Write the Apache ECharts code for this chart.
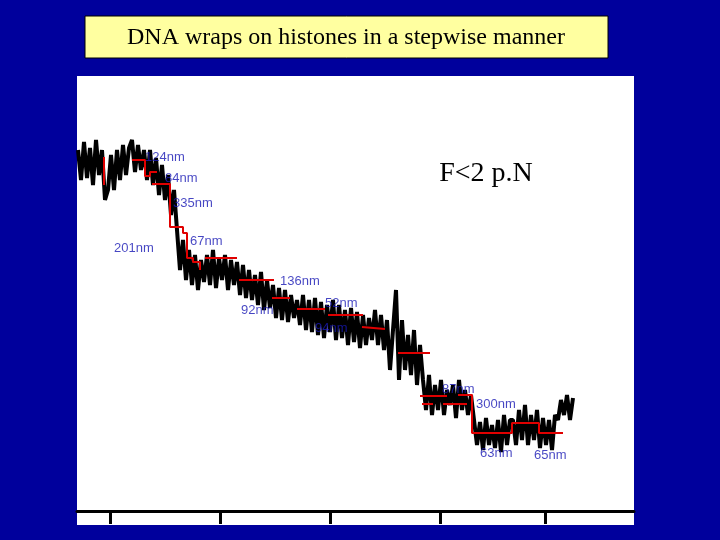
<!DOCTYPE html>
<html>
<head>
<meta charset="utf-8">
<script src="https://cdn.jsdelivr.net/npm/echarts@6/dist/echarts.min.js"></script>
<style>html,body{margin:0;padding:0;background:#00009c;}#main{width:720px;height:540px;}</style>
</head>
<body>
<div id="main"></div>
<script>
// trace samples (time step 3), extension
var traceStart = 78;
var traceStep = 3;
var traceY = [150,180,142,178,148,185,140,175,
    150,200,190,
    155,190,150,180,145,175,148,
    140,172,145,170,150,
    180,150,185,158,195,165,200,
    175,215,190,
    230,270,240,280,
    250,285,255,290,260,
    282,255,285,250,288,258,280,255,290,260,285,262,295,
    265,298,270,300,275,305,272,310,280,308,
    285,318,288,320,290,322,295,318,300,325,
    295,330,300,332,298,335,302,338,305,332,
    300,340,305,338,310,345,308,342,312,348,315,345,318,
    340,310,345,315,350,320,370,330,
    290,380,320,370,335,375,330,385,345,
    380,410,375,415,
    385,410,380,415,390,405,385,418,380,410,390,415,395,
    420,445,422,450,418,445,425,448,420,452,415,445,420,
    420,445,410,440,405,445,415,440,410,448,418,445,420,450,415,
    420,400,415,395,420,398];

// fitted steps (null = break)
var stepX = [104,104,null,
    132,145,145,150,150,157,null,
    152,170,170,183,183,187,187,193,193,200,200,null,
    205,237,null,239,274,null,272,290,null,297,325,null,328,363,null,362,385,null,
    398,430,null,420,447,null,422,433,null,443,467,null,
    458,472,472,512,512,539,539,563];
var stepY = [157,185,null,
    160,160,176,176,172,172,null,
    184,184,227,227,233,233,258,258,262,262,270,null,
    258,258,null,280,280,null,298,298,null,309,309,null,315,315,null,327,329,null,
    353,353,null,396,396,null,404,404,null,404,404,null,
    395,395,433,433,423,423,433,433];

var stepLabels = ['124nm','84nm','335nm','201nm','67nm','136nm','92nm','52nm','94nm','87nm','300nm','63nm','65nm'];
var labelX = [145,165,173,114,190,280,241,325,315,442,476,480,534];
var labelY = [157,178,203,248,241,281,310,303,328,389,404,453,455];

var tickValues = [110,220,330,440,545];

var traceData = traceY.map(function (y, i) { return [traceStart + i * traceStep, y]; });
var stepData = stepX.map(function (x, i) { return x == null ? '-' : [x, stepY[i]]; });
var labelData = labelX.map(function (x, i) { return [x, labelY[i], stepLabels[i]]; });

var myChart = echarts.init(document.getElementById('main'));
var option = {
    backgroundColor: '#00009c',
    animation: false,
    graphic: [
        { type: 'rect', z: -10, shape: { x: 77, y: 76, width: 557, height: 449 }, style: { fill: '#ffffff' } },
        { type: 'rect', shape: { x: 85, y: 16, width: 523, height: 42 }, style: { fill: '#ffffa0', stroke: '#000', lineWidth: 1 } },
        { type: 'text', x: 346, y: 38, style: { text: 'DNA wraps on histones in a stepwise manner', font: '24px "Liberation Serif", "Times New Roman", serif', fill: '#000', align: 'center', verticalAlign: 'middle' } },
        { type: 'text', x: 486, y: 174, style: { text: 'F<2 p.N', font: '28px "Liberation Serif", "Times New Roman", serif', fill: '#000', align: 'center', verticalAlign: 'middle' } }
    ],
    grid: { left: 77, right: 86, top: 76, bottom: 29 },
    xAxis: {
        type: 'value', min: 77, max: 634,
        splitLine: { show: false },
        axisLabel: { show: false },
        axisLine: { show: true, lineStyle: { color: '#000', width: 3 } },
        axisTick: { show: true, customValues: tickValues, inside: false, length: 13, lineStyle: { color: '#000', width: 3 } }
    },
    yAxis: {
        type: 'value', min: 76, max: 511, inverse: true,
        show: false, splitLine: { show: false }
    },
    series: [
        {
            type: 'line', data: traceData, symbol: 'none',
            lineStyle: { color: '#000', width: 4 }, z: 2
        },
        {
            type: 'line', data: stepData, symbol: 'none', connectNulls: false,
            lineStyle: { color: '#e00000', width: 2 }, z: 3
        },
        {
            type: 'scatter', data: labelData, symbolSize: 0, z: 4,
            label: {
                show: true, position: 'right', distance: 0,
                formatter: function (p) { return p.data[2]; },
                color: '#1818b4', fontFamily: 'Liberation Sans, Arial', fontSize: 13
            }
        }
    ]
};
myChart.setOption(option);
</script>
</body>
</html>
